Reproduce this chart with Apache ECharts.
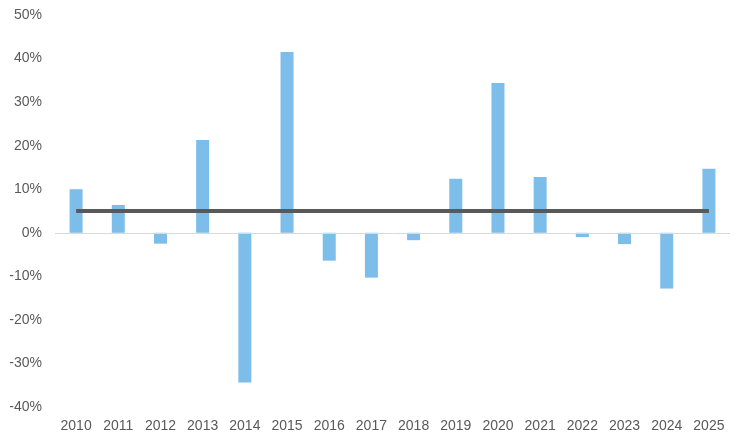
<!DOCTYPE html>
<html><head><meta charset="utf-8">
<script src="https://cdn.jsdelivr.net/npm/echarts@6/dist/echarts.min.js"></script>
<style>html,body{margin:0;padding:0;background:#fff}#c{width:746px;height:441px}</style>
</head><body><div id="c"></div>
<script>
const years=['2010','2011','2012','2013','2014','2015','2016','2017','2018','2019','2020','2021','2022','2023','2024','2025'];
const returns=[10,6.4,-2.5,21.3,-34.4,41.5,-6.4,-10.3,-1.7,12.4,34.4,12.8,-1,-2.6,-12.8,14.7];
const average=[5,5,5,5,5,5,5,5,5,5,5,5,5,5,5,5];
const chart=echarts.init(document.getElementById('c'));
chart.setOption({
  animation:false,
  grid:{left:55,right:16,top:15,bottom:34},
  xAxis:{type:'category',data:years,axisTick:{show:false},
    axisLine:{onZero:false,show:false},
    axisLabel:{color:'#595959',fontSize:14,fontFamily:'Liberation Sans',margin:12}},
  yAxis:{type:'value',min:-40,max:50,interval:10,splitLine:{show:false},
    axisLabel:{formatter:'{value}%',color:'#595959',fontSize:14,fontFamily:'Liberation Sans',margin:13}},
  series:[
    {type:'bar',data:returns,barWidth:13,itemStyle:{color:'#7dbde9'},
      markLine:{silent:true,symbol:'none',label:{show:false},lineStyle:{color:'#d9d9d9',width:1,type:'solid'},data:[{yAxis:0}]}},
    {type:'line',data:average,symbol:'none',lineStyle:{color:'#595959',width:4}}
  ]
});
</script></body></html>
